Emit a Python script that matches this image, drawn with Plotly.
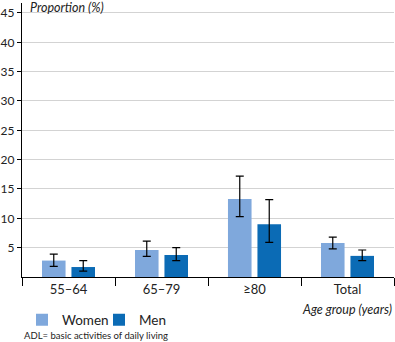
import plotly.graph_objects as go

categories = ["55–64", "65–79", "≥80", "Total"]
women = [2.8, 4.6, 13.3, 5.8]
women_hi = [3.9, 6.1, 17.2, 6.8]
women_lo = [1.8, 3.5, 10.3, 4.8]
men = [1.7, 3.75, 9.0, 3.6]
men_hi = [2.8, 5.0, 13.2, 4.6]
men_lo = [1.0, 2.8, 5.9, 2.8]
yticks = [5, 10, 15, 20, 25, 30, 35, 40, 45]

FONT = "Lato"

def err(v, hi, lo):
    return dict(type="data", symmetric=False,
                array=[h - x for h, x in zip(hi, v)],
                arrayminus=[x - l for x, l in zip(v, lo)],
                color="black", thickness=1.2, width=4)

fig = go.Figure()
fig.add_trace(go.Bar(x=categories, y=women, name="Women", marker_color="#7fa8dc",
                     marker_line_width=0, error_y=err(women, women_hi, women_lo)))
fig.add_trace(go.Bar(x=categories, y=men, name="Men", marker_color="#0b6bb5",
                     marker_line_width=0, error_y=err(men, men_hi, men_lo)))

fig.update_layout(
    width=395, height=342,
    margin=dict(l=22, r=1, t=3, b=65, autoexpand=False),
    paper_bgcolor="white", plot_bgcolor="white",
    barmode="group", bargap=0.366, bargroupgap=0.2,
    font=dict(family=FONT, size=13, color="#222"),
    showlegend=True,
    legend=dict(orientation="h", x=0.0, y=-0.10, xanchor="left", yanchor="top",
                font=dict(size=13.5), itemwidth=30, traceorder="normal",
                entrywidth=32),
    xaxis=dict(type="category", tickson="boundaries", ticks="outside", ticklen=8,
               tickcolor="black", showline=True, linecolor="black", linewidth=1.2,
               showgrid=False, tickfont=dict(size=13), automargin=False),
    yaxis=dict(range=[0, 46.7], tickvals=yticks, ticks="outside", ticklen=4,
               tickcolor="black", showline=True, linecolor="black", linewidth=1.2,
               showgrid=True, gridcolor="#d3d3d3", gridwidth=1, zeroline=False,
               tickfont=dict(size=12), ticklabelstandoff=0, automargin=False),
    annotations=[
        dict(text="<i>Proportion (%)</i>", xref="paper", yref="paper", x=0.017, y=0.982,
             xanchor="left", yanchor="middle", showarrow=False, font=dict(size=12.5)),
        dict(text="<i>Age group (years)</i>", xref="paper", yref="paper", x=1.0, y=-0.117,
             xanchor="right", yanchor="middle", showarrow=False, font=dict(size=12.5)),
        dict(text="ADL= basic activities of daily living", xref="paper", yref="paper",
             x=0.0, y=-0.215, xanchor="left", yanchor="middle", showarrow=False,
             font=dict(size=9.5)),
    ],
)

fig.write_html("out.html", config={"displayModeBar": False},
               post_script="document.body.style.margin='0';document.body.style.padding='0';")
